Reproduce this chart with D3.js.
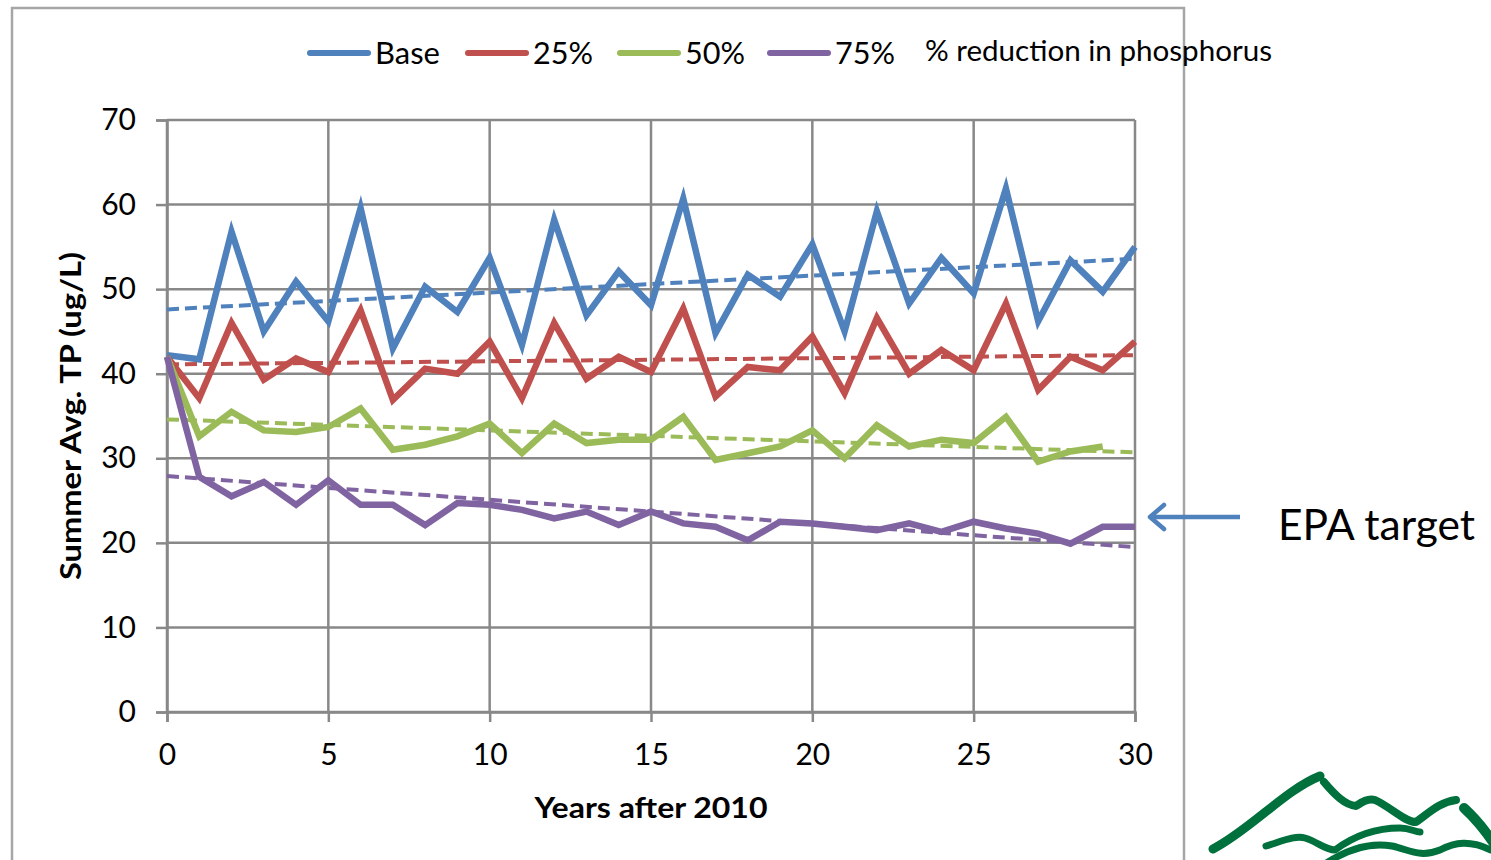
<!DOCTYPE html>
<html>
<head>
<meta charset="utf-8">
<script src="https://cdn.jsdelivr.net/npm/d3@7"></script>
<style>
  html, body { margin: 0; padding: 0; background: #ffffff; }
  svg { display: block; }
  text { font-family: Lato, "Open Sans", sans-serif; fill: #000; }
</style>
</head>
<body>
<svg id="chart" width="1491" height="860"></svg>
<script>
// ---- data ----
const years = [0,1,2,3,4,5,6,7,8,9,10,11,12,13,14,15,16,17,18,19,20,21,22,23,24,25,26,27,28,29,30];
const seriesNames = ["Base", "25%", "50%", "75%"];
const seriesColors = ["#4f81bd", "#c0504d", "#9bbb59", "#8064a2"];
const baseValues = [42.2,41.7,56.8,45.0,50.9,46.2,59.6,43.0,50.3,47.3,53.7,43.4,58.2,46.9,52.1,48.1,60.7,44.8,51.7,49.1,55.3,45.0,59.2,48.3,53.7,49.5,61.9,46.2,53.4,49.7,55.0];
const r25Values  = [42.0,37.1,46.0,39.3,41.8,40.2,47.5,36.9,40.6,40.0,43.8,37.1,46.0,39.4,42.0,40.2,47.7,37.3,40.8,40.4,44.4,37.7,46.6,40.0,42.8,40.4,48.3,38.1,42.0,40.4,43.8];
const r50Values  = [42.0,32.6,35.5,33.3,33.1,33.7,35.9,31.0,31.6,32.6,34.1,30.6,34.1,31.8,32.2,32.2,34.9,29.8,30.6,31.4,33.3,30.0,33.9,31.4,32.2,31.8,34.9,29.6,30.8,31.4];
const r75Values  = [42.0,27.8,25.5,27.2,24.5,27.4,24.5,24.5,22.1,24.7,24.5,23.9,22.9,23.7,22.1,23.7,22.3,21.9,20.3,22.5,22.3,21.9,21.5,22.3,21.3,22.5,21.7,21.1,19.9,21.9,21.9];
const trendStart = [47.6, 41.1, 34.6, 27.9];   // linear trend value at year 0
const trendEnd   = [53.6, 42.2, 30.7, 19.5];   // linear trend value at year 30
const xTicks = [0,5,10,15,20,25,30];
const yTicks = [0,10,20,30,40,50,60,70];
const xTitle = "Years after 2010";
const yTitle = "Summer Avg. TP (ug/L)";
const legendNote = "% reduction in phosphorus";
const annotation = "EPA target";

const allValues = [baseValues, r25Values, r50Values, r75Values];

// ---- layout ----
const svg = d3.select("#chart");
const x = d3.scaleLinear().domain([0, 30]).range([167, 1135]);
const y = d3.scaleLinear().domain([0, 70]).range([712, 120]);
const gridColor = "#888888";

// outer frame
svg.append("rect")
  .attr("x", 12).attr("y", 8).attr("width", 1172).attr("height", 870)
  .attr("fill", "none").attr("stroke", "#a6a6a6").attr("stroke-width", 2.5);

// grid lines
svg.append("g").selectAll("line.h").data(yTicks).join("line")
  .attr("x1", x(0)).attr("x2", x(30))
  .attr("y1", d => y(d)).attr("y2", d => y(d))
  .attr("stroke", gridColor).attr("stroke-width", 2.5);
svg.append("g").selectAll("line.v").data(xTicks).join("line")
  .attr("x1", d => x(d)).attr("x2", d => x(d))
  .attr("y1", y(0)).attr("y2", y(70))
  .attr("stroke", gridColor).attr("stroke-width", 2.5);

// axes
const yAxis = svg.append("g").attr("transform", `translate(${x(0)},0)`)
  .call(d3.axisLeft(y).tickValues(yTicks).tickSize(11).tickPadding(20));
const xAxis = svg.append("g").attr("transform", `translate(0,${y(0)})`)
  .call(d3.axisBottom(x).tickValues(xTicks).tickSize(10).tickPadding(22));
[yAxis, xAxis].forEach(g => {
  g.select(".domain").attr("stroke", gridColor).attr("stroke-width", 2.5);
  g.selectAll(".tick line").attr("stroke", gridColor).attr("stroke-width", 2.5);
  g.selectAll(".tick text").attr("font-family", "Lato, 'Open Sans', sans-serif")
    .attr("font-size", 30).attr("fill", "#000");
});

// trend lines (dashed)
const line = d3.line().x(d => x(d[0])).y(d => y(d[1]));
seriesNames.forEach((n, i) => {
  svg.append("path")
    .datum([[0, trendStart[i]], [30, trendEnd[i]]])
    .attr("d", line).attr("fill", "none")
    .attr("stroke", seriesColors[i]).attr("stroke-width", 4)
    .attr("stroke-dasharray", "12,6");
});

// series lines
allValues.forEach((vals, i) => {
  svg.append("path")
    .datum(vals.map((v, k) => [years[k], v]))
    .attr("d", line).attr("fill", "none")
    .attr("stroke", seriesColors[i]).attr("stroke-width", 6.5)
    .attr("stroke-linejoin", "miter").attr("stroke-miterlimit", 10);
});

// legend
const legendX = [310, 468, 620, 770];
const legendY = 53;
const legendW = [65, 60, 60, 60];
seriesNames.forEach((n, i) => {
  svg.append("line")
    .attr("x1", legendX[i]).attr("x2", legendX[i] + 58)
    .attr("y1", legendY).attr("y2", legendY)
    .attr("stroke", seriesColors[i]).attr("stroke-width", 6).attr("stroke-linecap", "round");
  svg.append("text")
    .attr("x", legendX[i] + 65).attr("y", legendY + 11)
    .attr("font-size", 30)
    .attr("textLength", legendW[i]).attr("lengthAdjust", "spacingAndGlyphs")
    .text(n);
});
svg.append("text").attr("x", 925).attr("y", 61).attr("font-size", 28)
  .attr("textLength", 347).attr("lengthAdjust", "spacingAndGlyphs").text(legendNote);

// axis titles
svg.append("text")
  .attr("transform", `translate(81,${416}) rotate(-90)`)
  .attr("text-anchor", "middle").attr("font-weight", "bold").attr("font-size", 29)
  .attr("textLength", 328).attr("lengthAdjust", "spacingAndGlyphs")
  .text(yTitle);
svg.append("text")
  .attr("x", 651).attr("y", 818)
  .attr("text-anchor", "middle").attr("font-weight", "bold").attr("font-size", 29)
  .attr("textLength", 233).attr("lengthAdjust", "spacingAndGlyphs")
  .text(xTitle);

// EPA target annotation with arrow
svg.append("line").attr("x1", 1240).attr("x2", 1152).attr("y1", 517).attr("y2", 517)
  .attr("stroke", "#4f81bd").attr("stroke-width", 4.5);
svg.append("path").attr("d", "M1164,505 L1150,517 L1164,529")
  .attr("fill", "none").attr("stroke", "#4f81bd").attr("stroke-width", 4.5)
  .attr("stroke-linecap", "round").attr("stroke-linejoin", "round");
svg.append("text").attr("x", 1278).attr("y", 540).attr("font-size", 42)
  .attr("textLength", 197).attr("lengthAdjust", "spacingAndGlyphs").text(annotation);

// logo (decorative green mountains)
const logo = svg.append("g").attr("fill", "none").attr("stroke", "#00703c")
  .attr("stroke-linecap", "round").attr("stroke-linejoin", "round");
logo.append("path").attr("d", "M1213,849 C1250,830 1285,790 1320,776").attr("stroke-width", 9);
logo.append("path").attr("d", "M1324,782 C1335,795 1345,805 1356,806 C1362,802 1368,798 1375,800 C1392,808 1405,822 1416,822 C1430,812 1440,802 1456,800").attr("stroke-width", 8);
logo.append("path").attr("d", "M1464,808 C1475,818 1485,830 1495,845").attr("stroke-width", 10);
logo.append("path").attr("d", "M1266,846 C1280,842 1295,835 1305,838 C1318,842 1325,850 1335,850 C1355,835 1375,828 1400,828 C1410,828 1415,832 1420,832").attr("stroke-width", 7);
logo.append("path").attr("d", "M1322,866 C1345,850 1370,842 1392,846 C1410,850 1420,858 1440,850 C1455,842 1470,840 1491,850").attr("stroke-width", 7);
</script>
</body>
</html>
